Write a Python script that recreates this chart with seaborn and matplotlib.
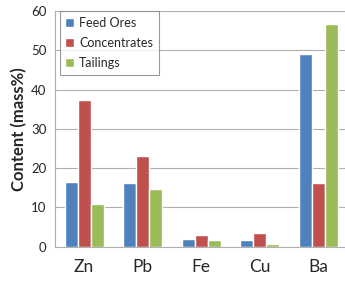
import numpy as np
import pandas as pd
import seaborn as sns
import matplotlib.pyplot as plt

elements = ["Zn", "Pb", "Fe", "Cu", "Ba"]
feed_ores = [16.5, 16.2, 2.1, 1.7, 49.0]
concentrates = [37.3, 23.2, 3.0, 3.6, 16.3]
tailings = [10.8, 14.8, 1.6, 0.7, 56.6]
series = ["Feed Ores", "Concentrates", "Tailings"]
colors = ["#4F81BD", "#C0504D", "#9BBB59"]

df = pd.DataFrame({
    "element": elements * 3,
    "series": [s for s in series for _ in elements],
    "value": feed_ores + concentrates + tailings,
})

sns.set_style("white")
plt.rcParams['font.family'] = ['Lato', 'DejaVu Sans']

fig = plt.figure(figsize=(3.45, 2.83), dpi=100)
ax = fig.add_axes([0.159, 0.128, 0.848, 0.833])

sns.barplot(data=df, x="element", y="value", hue="series", palette=colors,
            width=0.67, gap=0, saturation=1, ax=ax)

ax.set_ylim(0, 60)
ax.set_xlim(-0.5, 4.5)
ax.set_yticks(np.arange(0, 61, 10))
ax.yaxis.grid(True, color="#b0b0b0", linewidth=0.8)
ax.set_axisbelow(True)
for s in ["top", "right"]:
    ax.spines[s].set_visible(False)
ax.spines["left"].set_color("#b0b0b0")
ax.spines["bottom"].set_color("#b0b0b0")
ax.tick_params(axis="y", which="major", length=4, color="#b0b0b0", labelsize=9.5, pad=2)
ax.tick_params(axis="x", which="major", length=0, labelsize=12.5, pad=9)
ax.set_xticks(np.arange(-0.5, 4.6, 1), minor=True)
ax.tick_params(axis="x", which="minor", length=4, color="#b0b0b0", direction="out")
ax.set_xlabel("")
ax.set_ylabel("Content (mass%)", fontsize=12, fontweight="bold", labelpad=3)

leg = ax.legend(loc="upper left", fontsize=9, frameon=True, fancybox=False,
                edgecolor="#808080", handlelength=0.7, handleheight=0.7,
                handletextpad=0.4, borderpad=0.45, labelspacing=0.65,
                borderaxespad=0, bbox_to_anchor=(0.017, 1.0))
leg.get_frame().set_linewidth(0.8)

fig.savefig("out.png", dpi=100)
